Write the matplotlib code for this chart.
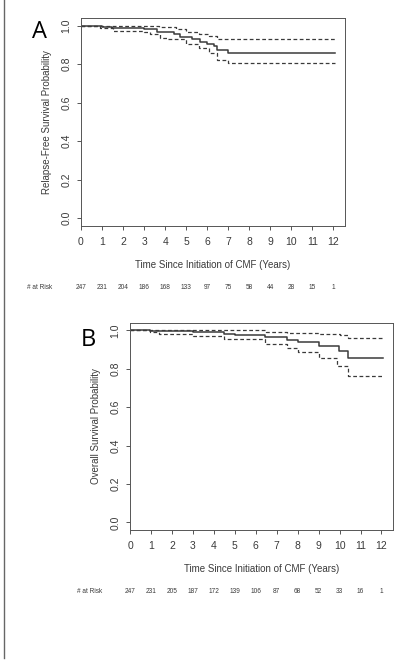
import matplotlib
matplotlib.use("Agg")
import matplotlib.pyplot as plt
from matplotlib.lines import Line2D

plt.rcParams['font.family'] = ['Liberation Sans', 'DejaVu Sans']

years = list(range(13))

# Panel A: relapse-free survival (step times and values)
rfs_t = [0, 1.0, 1.45, 3.0, 3.6, 4.4, 4.7, 5.3, 5.65, 6.0, 6.3, 6.45, 7.0, 12.08]
rfs_s = [1.0, 0.995, 0.988, 0.981, 0.969, 0.955, 0.943, 0.931, 0.918, 0.904, 0.893, 0.874, 0.860, 0.860]
rfs_hi_t = [0, 3.7, 4.5, 5.0, 5.6, 6.1, 6.45, 7.0, 12.08]
rfs_hi = [1.0, 0.991, 0.981, 0.969, 0.957, 0.945, 0.933, 0.929, 0.926]
rfs_lo_t = [0, 0.9, 1.5, 3.0, 3.3, 3.75, 4.1, 5.0, 5.6, 6.1, 6.45, 7.0, 12.08]
rfs_lo = [1.0, 0.986, 0.972, 0.965, 0.955, 0.938, 0.93, 0.905, 0.885, 0.858, 0.82, 0.805, 0.805]
risk_a = [247, 231, 204, 186, 168, 133, 97, 75, 58, 44, 28, 15, 1]

# Panel B: overall survival
os_t = [0, 0.95, 3.0, 4.5, 5.0, 6.45, 7.5, 8.0, 9.0, 9.97, 10.4, 12.08]
os_s = [1.0, 0.996, 0.99, 0.983, 0.976, 0.965, 0.951, 0.937, 0.918, 0.892, 0.856, 0.856]
os_hi_t = [0, 6.5, 7.5, 9.0, 10.0, 10.4, 12.08]
os_hi = [1.0, 0.993, 0.986, 0.983, 0.976, 0.963, 0.963]
os_lo_t = [0, 0.95, 1.4, 3.0, 4.5, 6.45, 7.5, 8.0, 9.0, 9.9, 10.4, 12.08]
os_lo = [1.0, 0.99, 0.983, 0.972, 0.955, 0.93, 0.91, 0.889, 0.857, 0.817, 0.765, 0.765]
risk_b = [247, 231, 205, 187, 172, 139, 106, 87, 68, 52, 33, 16, 1]

col = '#3a3a3a'
fig = plt.figure(figsize=(4.0, 6.62), dpi=100)


def km_panel(rect, t, s, th, hi, tl, lo, ylabel, letter, risk, letter_xy, risk_lbl_x):
    ax = fig.add_axes(rect)
    ax.step(t, s, where='post', color=col, lw=1.1)
    ax.step(th, hi, where='post', color=col, lw=0.9, ls=(0, (3, 2)))
    ax.step(tl, lo, where='post', color=col, lw=0.9, ls=(0, (3, 2)))
    ax.set_xlim(0, 12.55)
    ax.set_ylim(-0.04, 1.04)
    ax.set_xticks(years)
    ax.set_yticks([0, 0.2, 0.4, 0.6, 0.8, 1.0])
    ax.set_yticklabels(['0.0', '0.2', '0.4', '0.6', '0.8', '1.0'], rotation=90, va='center')
    ax.tick_params(colors=col, labelsize=7.5, length=3, width=0.6)
    ax.tick_params(axis='x', pad=5)
    ax.tick_params(axis='y', pad=4)
    for sp in ax.spines.values():
        sp.set_color('#555555')
        sp.set_linewidth(0.7)
    ax.set_ylabel(ylabel, fontsize=7, color=col, labelpad=7)
    ax.set_xlabel('Time Since Initiation of CMF (Years)', fontsize=7, color=col, labelpad=9)
    # numbers at risk below the axis
    for x, n in zip(years, risk):
        ax.text(x, -0.36, str(n), fontsize=4.7, color=col, ha='center', va='center')
    ax.text(risk_lbl_x, -0.36, '# at Risk', fontsize=4.7, color=col, ha='left', va='center')
    fig.text(letter_xy[0], letter_xy[1], letter, fontsize=17, ha='left', va='center',
             family=['Open Sans', 'DejaVu Sans'])
    return ax


km_panel([0.2025, 0.6586, 0.66, 0.3142], rfs_t, rfs_s, rfs_hi_t, rfs_hi, rfs_lo_t, rfs_lo,
         'Relapse-Free Survival Probability', 'A', risk_a, (0.08, 0.952), -2.55)
km_panel([0.325, 0.1994, 0.6575, 0.3131], os_t, os_s, os_hi_t, os_hi, os_lo_t, os_lo,
         'Overall Survival Probability', 'B', risk_b, (0.203, 0.487), -2.55)

# left border line of the original figure
fig.add_artist(Line2D([0.011, 0.011], [0.006, 1.0], transform=fig.transFigure,
                      color='#666666', lw=1.0))

fig.savefig('out.png', dpi=100)
